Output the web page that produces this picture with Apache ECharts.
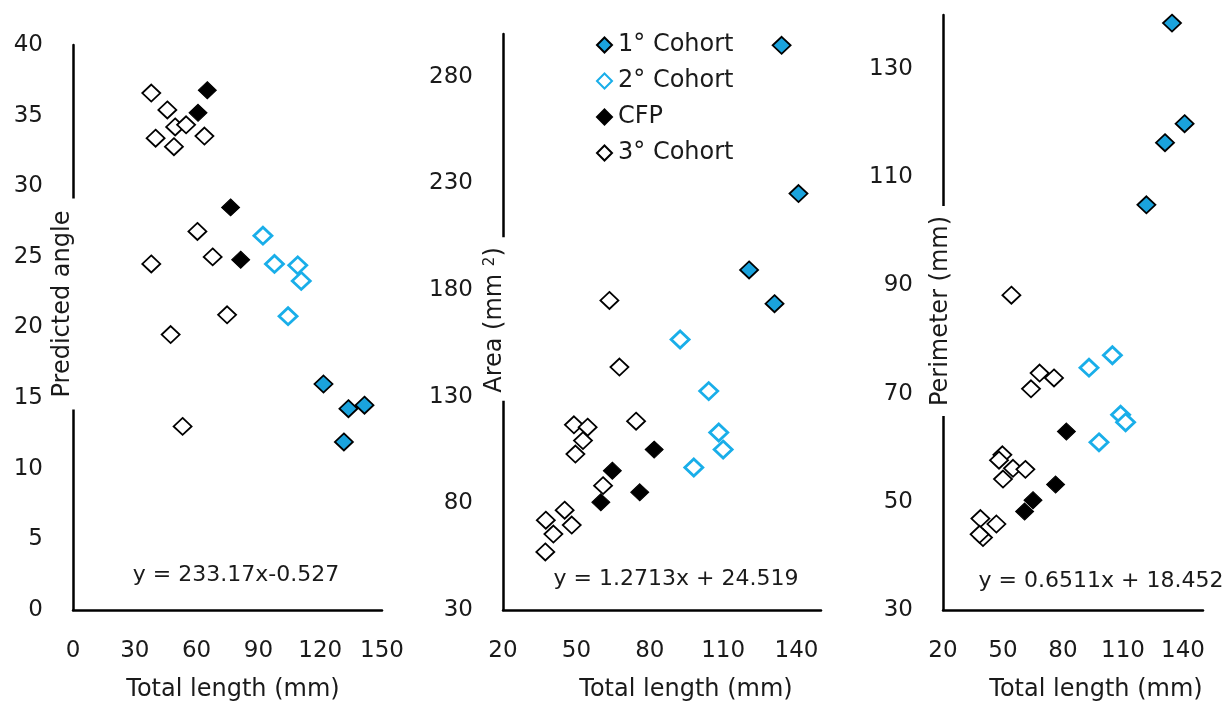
<!DOCTYPE html>
<html>
<head>
	<meta charset="UTF-8">
	<script src="https://cdn.jsdelivr.net/npm/echarts@6/dist/echarts.min.js"></script>
	<title></title>
	<style>
		body { margin: 0; background: #fff; }
	</style>
</head>
<body>
	<div id="main" style="height:704px;width:1227px;"></div>
	<script type="text/javascript">
        // panel data: [total length, value]
        var cohorts = ['1° Cohort', '2° Cohort', 'CFP', '3° Cohort'];

        var angle1 = [[121.6, 16.0], [133.7, 14.25], [141.5, 14.5], [131.5, 11.9]];
        var angle2 = [[92.2, 26.5], [97.8, 24.5], [109.1, 24.4], [110.8, 23.3], [104.4, 20.8]];
        var angleCfp = [[65.2, 36.8], [60.7, 35.2], [76.5, 28.5], [81.4, 24.8]];
        var angle3 = [[38.0, 36.6], [45.8, 35.4], [49.6, 34.2], [54.9, 34.35], [40.1, 33.4], [49.0, 32.8],
            [63.8, 33.55], [60.4, 26.8], [38.0, 24.5], [67.8, 25.0], [74.8, 20.9], [47.4, 19.5], [53.2, 13.0]];

        var area1 = [[133.9, 294.7], [140.8, 225.2], [120.6, 189.4], [131.0, 173.6]];
        var area2 = [[92.4, 156.8], [104.1, 132.6], [108.2, 113.2], [110.0, 105.2], [98.0, 96.8]];
        var areaCfp = [[81.8, 105.2], [64.7, 95.3], [75.9, 85.2], [60.0, 80.5]];
        var area3 = [[63.5, 175.1], [67.6, 143.9], [74.4, 118.5], [49.0, 116.8], [54.6, 115.7], [52.7, 109.4],
            [49.6, 103.1], [60.9, 88.3], [45.2, 76.8], [37.5, 72.1], [48.1, 69.8], [40.6, 65.6], [37.3, 57.2]];

        var perim1 = [[134.5, 138.5], [140.8, 119.9], [131.0, 116.4], [121.7, 104.9]];
        var perim2 = [[104.7, 77.1], [93.0, 74.8], [108.8, 66.1], [111.3, 64.7], [98.0, 61.0]];
        var perimCfp = [[81.7, 63.0], [76.3, 53.2], [65.0, 50.3], [60.8, 48.2]];
        var perim3 = [[54.2, 88.2], [68.3, 73.8], [75.5, 72.9], [64.0, 70.9], [49.7, 58.7], [48.0, 57.7],
            [55.0, 56.2], [61.2, 56.0], [50.0, 54.2], [38.7, 46.9], [46.7, 45.9], [40.0, 43.4], [38.3, 44.0]];

        var equations = ['y = 233.17x-0.527', 'y = 1.2713x + 24.519', 'y = 0.6511x + 18.452'];

        var font = 'DejaVu Sans';
        var ink = '#1a1a1a';

        var styles = [
            { color: '#1aa3dd', borderColor: '#000', borderWidth: 1.8, opacity: 1 },
            { color: '#fff', borderColor: '#19aee9', borderWidth: 2.8, opacity: 1 },
            { color: '#000', borderColor: '#000', borderWidth: 1, opacity: 1 },
            { color: '#fff', borderColor: '#000', borderWidth: 1.8, opacity: 1 }
        ];

        function xAx(idx, min) {
            return {
                gridIndex: idx, type: 'value', min: min, max: 150, interval: 30,
                axisLine: { show: true, onZero: false, lineStyle: { color: '#000', width: 2.5 } },
                axisTick: { show: false },
                splitLine: { show: false },
                axisLabel: { margin: 30, color: ink, fontFamily: font, fontSize: 23, showMaxLabel: idx === 0 }
            };
        }
        function yAx(idx, min, max, interval) {
            return {
                gridIndex: idx, type: 'value', min: min, max: max, interval: interval,
                axisLine: { show: true, onZero: false, lineStyle: { color: '#000', width: 2.5 } },
                axisTick: { show: false },
                splitLine: { show: false },
                axisLabel: { margin: 30, color: ink, fontFamily: font, fontSize: 23, showMaxLabel: idx === 0 }
            };
        }

        var panels = [
            [angle1, angle2, angleCfp, angle3],
            [area1, area2, areaCfp, area3],
            [perim1, perim2, perimCfp, perim3]
        ];
        var series = [];
        for (var p = 0; p < panels.length; p++) {
            for (var s = 0; s < 4; s++) {
                series.push({
                    name: cohorts[s],
                    type: 'scatter',
                    xAxisIndex: p, yAxisIndex: p,
                    symbol: 'diamond',
                    symbolSize: [18, 17],
                    itemStyle: styles[s],
                    data: panels[p][s]
                });
            }
        }

        function eq(text, x, y) {
            return {
                type: 'text', x: x, y: y, z: 20,
                style: { text: text, font: '22px "DejaVu Sans"', fill: ink, align: 'center', verticalAlign: 'middle' }
            };
        }
        function xTitle(x) {
            return {
                type: 'text', x: x, y: 690, z: 20,
                style: { text: 'Total length (mm)', font: '24px "DejaVu Sans"', fill: ink, align: 'center', verticalAlign: 'middle' }
            };
        }
        function yTitle(text, x, y, pad) {
            return {
                type: 'text', x: x, y: y, z: 20, rotation: Math.PI / 2,
                style: {
                    text: text, font: '24px "DejaVu Sans"', fill: ink, align: 'center', verticalAlign: 'middle',
                    backgroundColor: '#fff', padding: pad,
                    rich: {
                        s: { fontSize: 15, fontFamily: font, fill: ink, verticalAlign: 'top', padding: [0, 0, 7, 0] }
                    }
                }
            };
        }

        var myChart = echarts.init(document.getElementById('main'));
        var option = {
            animation: false,
            backgroundColor: '#fff',
            grid: [
                { left: 73, top: 45, width: 309, height: 565 },
                { left: 503, top: 34, width: 318, height: 576 },
                { left: 943, top: 15, width: 260, height: 595 }
            ],
            xAxis: [xAx(0, 0), xAx(1, 20), xAx(2, 20)],
            yAxis: [yAx(0, 0, 40, 5), yAx(1, 30, 300, 50), yAx(2, 30, 140, 20)],
            legend: {
                data: cohorts,
                orient: 'vertical',
                left: 591, top: 27,
                itemWidth: 15, itemHeight: 15,
                itemGap: 10,
                textStyle: { color: ink, fontFamily: font, fontSize: 24, lineHeight: 26, padding: [0, 0, 0, 1] }
            },
            graphic: [
                eq(equations[0], 236, 575),
                eq(equations[1], 676, 579),
                eq(equations[2], 1101, 581),
                xTitle(233), xTitle(686), xTitle(1096),
                yTitle('Predicted angle', 67, 304, [0, 12, 8, 12]),
                yTitle('Area (mm {s|2})', 500, 319, [0, 10, 10, 8]),
                yTitle('Perimeter (mm)', 946, 311, [0, 10, 10, 10])
            ],
            series: series
        };
        myChart.setOption(option);
	</script>
</body>
</html>
